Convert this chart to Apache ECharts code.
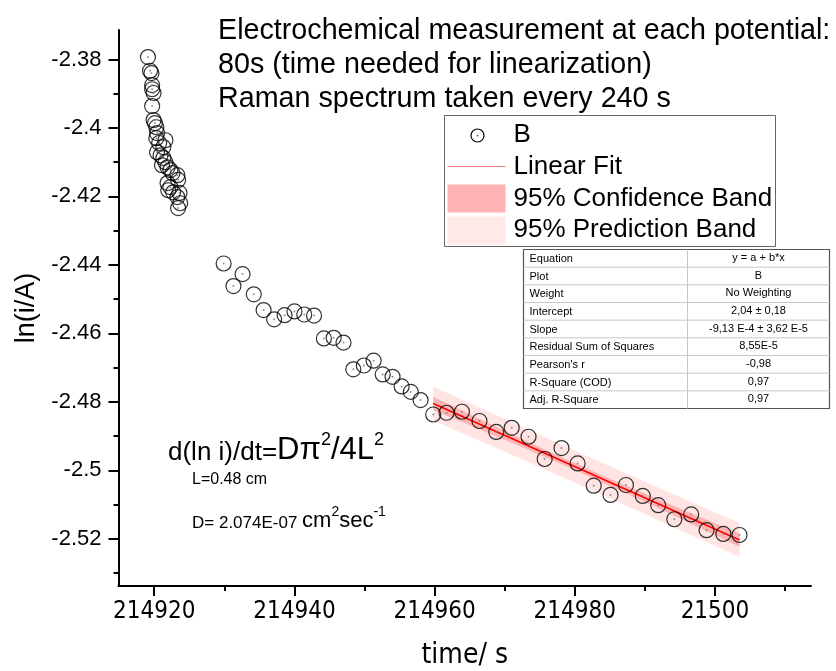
<!DOCTYPE html>
<html>
<head>
<meta charset="utf-8">
<script src="https://cdn.jsdelivr.net/npm/echarts@6/dist/echarts.min.js"></script>
<style>
  html, body { margin: 0; padding: 0; background: #fff; }
  #chart { width: 836px; height: 671px; }
</style>
</head>
<body>
<div id="chart"></div>
<script>
// Early, fast-falling readings
const clusterTime = [214919.1, 214919.4, 214919.6, 214919.7, 214919.7, 214919.9, 214919.7, 214919.9, 214920.1, 214920.3, 214920.4, 214920.3, 214921.6, 214920.7, 214921.3, 214920.4, 214920.9, 214921.3, 214921.6, 214921.1, 214921.9, 214922.3, 214922.6, 214923.3, 214923.4, 214921.9, 214922.3, 214922.0, 214922.7, 214923.6, 214923.3, 214923.7, 214923.4];
const clusterLn = [-2.3793, -2.3833, -2.3840, -2.3875, -2.3887, -2.3898, -2.3936, -2.3977, -2.3986, -2.3998, -2.4015, -2.4030, -2.4036, -2.4044, -2.4056, -2.4071, -2.4080, -2.4088, -2.4100, -2.4109, -2.4115, -2.4123, -2.4132, -2.4138, -2.4152, -2.4161, -2.4173, -2.4182, -2.4188, -2.4190, -2.4202, -2.4220, -2.4234];

// Intermediate readings
const midTime = [214929.9, 214932.6, 214931.3, 214934.2, 214935.6, 214937.1, 214938.6, 214940.0, 214941.4, 214942.8, 214944.2, 214945.6, 214947.0, 214948.4, 214949.9, 214951.3, 214952.6, 214954.0, 214955.3, 214956.6, 214958.0];
const midLn = [-2.4396, -2.4427, -2.4462, -2.4486, -2.4532, -2.4559, -2.4547, -2.4536, -2.4545, -2.4548, -2.4615, -2.4613, -2.4627, -2.4705, -2.4694, -2.4680, -2.4720, -2.4727, -2.4755, -2.4771, -2.4795];

// Readings used for the linear fit
const fitTime = [214959.8, 214961.7, 214963.9, 214966.4, 214968.8, 214971.0, 214973.4, 214975.7, 214978.1, 214980.4, 214982.7, 214985.1, 214987.3, 214989.7, 214991.9, 214994.2, 214996.6, 214998.8, 215001.2, 215003.5];
const fitLn = [-2.4837, -2.4832, -2.4829, -2.4856, -2.4888, -2.4876, -2.4902, -2.4967, -2.4935, -2.4980, -2.5045, -2.5072, -2.5043, -2.5075, -2.5102, -2.5143, -2.5129, -2.5175, -2.5186, -2.5189];

// Fit statistics (as reported in the results table)
const fitSlope = -9.13e-4;
const fitRSS = 8.55e-5;
const tCrit = 2.101; // t(0.975, n-2 = 18)

// Axis ticks and labels
const xTickValues = [214920, 214940, 214960, 214980, 215000];
const xTickLabels = ['214920', '214940', '214960', '214980', '21500'];
const xMinorValues = [214930, 214950, 214970, 214990, 215010];
const yTickValues = [-2.38, -2.40, -2.42, -2.44, -2.46, -2.48, -2.50, -2.52];
const yTickLabels = ['-2.38', '-2.4', '-2.42', '-2.44', '-2.46', '-2.48', '-2.5', '-2.52'];
const yMinorValues = [-2.39, -2.41, -2.43, -2.45, -2.47, -2.49, -2.51, -2.53];

// Annotation texts
const headerLines = [
  'Electrochemical measurement at each potential:',
  '80s (time needed for linearization)',
  'Raman spectrum taken every 240 s'
];
const legendNames = ['B', 'Linear Fit', '95% Confidence Band', '95% Prediction Band'];
const tableRows = [
  ['Equation', 'y = a + b*x'],
  ['Plot', 'B'],
  ['Weight', 'No Weighting'],
  ['Intercept', '2,04 \u00b1 0,18'],
  ['Slope', '-9,13 E-4 \u00b1 3,62 E-5'],
  ['Residual Sum of Squares', '8,55E-5'],
  ["Pearson's r", '-0,98'],
  ['R-Square (COD)', '0,97'],
  ['Adj. R-Square', '0,97']
];

const FONT = "'Liberation Sans', Arial, sans-serif";
const NARROW = "'Liberation Sans Narrow', 'Arial Narrow', 'DejaVu Sans Condensed', sans-serif";

const X_MIN = 214914.9, X_MAX = 215013.7;
const Y_MIN = -2.5338, Y_MAX = -2.3714;

// ---- points ----
const allTime = clusterTime.concat(midTime, fitTime);
const allLn = clusterLn.concat(midLn, fitLn);
const points = allTime.map((t, i) => [t, allLn[i]]);

// ---- linear fit with confidence / prediction bands ----
const n = fitTime.length;
const xMean = fitTime.reduce((a, b) => a + b, 0) / n;
const yMean = fitLn.reduce((a, b) => a + b, 0) / n;
const sxx = fitTime.reduce((a, x) => a + (x - xMean) * (x - xMean), 0);
const sRes = Math.sqrt(fitRSS / (n - 2));
const fitAt = x => yMean + fitSlope * (x - xMean);
const x0 = fitTime[0], x1 = fitTime[n - 1];
const steps = 40;
const bandX = [];
for (let i = 0; i <= steps; i++) bandX.push(x0 + (x1 - x0) * i / steps);
const confHalf = x => tCrit * sRes * Math.sqrt(1 / n + (x - xMean) * (x - xMean) / sxx);
const predHalf = x => tCrit * sRes * Math.sqrt(1 + 1 / n + (x - xMean) * (x - xMean) / sxx);
const confUpper = bandX.map(x => [x, fitAt(x) + confHalf(x)]);
const confLower = bandX.map(x => [x, fitAt(x) - confHalf(x)]);
const predUpper = bandX.map(x => [x, fitAt(x) + predHalf(x)]);
const predLower = bandX.map(x => [x, fitAt(x) - predHalf(x)]);
const fitLine = [[x0, fitAt(x0)], [x1, fitAt(x1)]];

function bandSeries(name, upper, lower, color, z) {
  return {
    name: name,
    type: 'custom',
    z: z,
    silent: true,
    clip: true,
    data: [upper[0]],
    renderItem: function (params, api) {
      const pts = upper.map(p => api.coord(p)).concat(lower.slice().reverse().map(p => api.coord(p)));
      return { type: 'polygon', shape: { points: pts }, style: { fill: color } };
    }
  };
}

const PRED_COLOR = '#ffe4e4';
const CONF_COLOR = '#ffb4b4';

// ---- legend and table drawn as graphics ----
const legendLeft = 444, legendTop = 115;
const legendGroup = {
  type: 'group', left: legendLeft, top: legendTop, z: 20,
  children: [
    { type: 'rect', shape: { x: 0, y: 0, width: 331, height: 131 }, style: { fill: '#fff', stroke: '#666', lineWidth: 1 } },
    { type: 'circle', shape: { cx: 33, cy: 20, r: 6.5 }, style: { fill: 'none', stroke: '#000', lineWidth: 1.2 } },
    { type: 'circle', shape: { cx: 33, cy: 20, r: 0.9 }, style: { fill: '#666' } },
    { type: 'line', shape: { x1: 3, y1: 51, x2: 61, y2: 51 }, style: { stroke: '#ee7b7b', lineWidth: 1 } },
    { type: 'rect', shape: { x: 3, y: 69, width: 58, height: 28 }, style: { fill: CONF_COLOR } },
    { type: 'rect', shape: { x: 3, y: 101, width: 58, height: 28 }, style: { fill: '#ffe9e9' } }
  ].concat(legendNames.map((t, i) => ({
    type: 'text', x: 69, y: [19, 51, 83, 114][i],
    style: { text: t, font: '26px ' + FONT, fill: '#000', verticalAlign: 'middle' }
  })))
};

const tblLeft = 521, tblTop = 247, tblW = 306, tblH = 159, colX = 164;
const rowH = tblH / tableRows.length;
const tableChildren = [
  { type: 'rect', shape: { x: 0, y: 0, width: tblW, height: tblH }, style: { fill: '#fff', stroke: '#555', lineWidth: 1.2 } },
  { type: 'line', shape: { x1: colX, y1: 0, x2: colX, y2: tblH }, style: { stroke: '#c8c8c8', lineWidth: 1 } }
];
for (let i = 1; i < tableRows.length; i++) {
  tableChildren.push({ type: 'line', shape: { x1: 0, y1: i * rowH, x2: tblW, y2: i * rowH }, style: { stroke: '#c8c8c8', lineWidth: 1 } });
}
tableRows.forEach((r, i) => {
  tableChildren.push({ type: 'text', x: 6, y: i * rowH + rowH / 2 + 0.5, style: { text: r[0], font: '11px ' + FONT, fill: '#000', verticalAlign: 'middle' } });
  tableChildren.push({ type: 'text', x: colX + (tblW - colX) / 2, y: i * rowH + rowH / 2 - 0.5, style: { text: r[1], font: '11px ' + FONT, fill: '#000', align: 'center', verticalAlign: 'middle' } });
});
const tableGroup = { type: 'group', left: tblLeft, top: tblTop, z: 21, children: tableChildren };

const headerText = {
  type: 'text', left: 218, top: 14, z: 22,
  style: { text: headerLines.join('\n'), font: '28.7px ' + FONT, fill: '#000', lineHeight: 34 }
};

const eqText = {
  type: 'text', left: 168, top: 431, z: 22,
  style: {
    text: '{a|d(ln i)/dt=}{m|D\u03c0}{s|2}{m|/4L}{s|2}',
    rich: {
      a: { fontSize: 26, fontFamily: FONT, lineHeight: 35, verticalAlign: 'bottom', color: '#000' },
      m: { fontSize: 31, fontFamily: FONT, lineHeight: 35, verticalAlign: 'bottom', color: '#000' },
      s: { fontSize: 18, fontFamily: FONT, lineHeight: 19, verticalAlign: 'top', color: '#000' }
    }
  }
};
const lText = {
  type: 'text', left: 192, top: 472, z: 22,
  style: { text: 'L=0.48 cm', font: '16px ' + FONT, fill: '#000' }
};
const dText = {
  type: 'text', left: 192, top: 505, z: 22,
  style: {
    text: '{a|D= 2.074E-07 }{b|cm}{s|2}{b|sec}{s|-1}',
    rich: {
      a: { fontSize: 17, fontFamily: FONT, lineHeight: 27, verticalAlign: 'bottom', color: '#000' },
      b: { fontSize: 22, fontFamily: FONT, lineHeight: 27, verticalAlign: 'bottom', color: '#000' },
      s: { fontSize: 14, fontFamily: FONT, lineHeight: 15, verticalAlign: 'top', color: '#000' }
    }
  }
};

const axisLineStyle = { color: '#000', width: 2 };

const option = {
  backgroundColor: '#fff',
  animation: false,
  grid: { left: 118.5, right: 25, top: 30, bottom: 85, containLabel: false, outerBoundsMode: 'none' },
  xAxis: [
    {
      type: 'value', min: X_MIN, max: X_MAX, position: 'bottom',
      axisLine: { show: true, onZero: false, lineStyle: axisLineStyle },
      axisTick: { show: true, length: 10, customValues: xTickValues, lineStyle: { color: '#000', width: 2 } },
      axisLabel: {
        customValues: xTickValues,
        formatter: v => xTickLabels[xTickValues.findIndex(t => Math.abs(t - v) < 1e-6)],
        margin: 14, fontSize: 24, fontFamily: NARROW, color: '#000'
      },
      splitLine: { show: false },
      name: 'time/ s', nameLocation: 'middle', nameGap: 56,
      nameTextStyle: { fontSize: 28, fontFamily: NARROW, color: '#000' }
    },
    {
      type: 'value', min: X_MIN, max: X_MAX, position: 'bottom', offset: 0,
      axisLine: { show: false },
      axisTick: { show: true, length: 5, customValues: xMinorValues, lineStyle: { color: '#000', width: 2 } },
      axisLabel: { show: false },
      splitLine: { show: false }
    }
  ],
  yAxis: [
    {
      type: 'value', min: Y_MIN, max: Y_MAX, position: 'left',
      axisLine: { show: true, onZero: false, lineStyle: axisLineStyle },
      axisTick: { show: true, length: 10, customValues: yTickValues, lineStyle: { color: '#000', width: 2 } },
      axisLabel: {
        customValues: yTickValues,
        formatter: v => yTickLabels[yTickValues.findIndex(t => Math.abs(t - v) < 1e-6)],
        margin: 17, fontSize: 22, fontFamily: FONT, color: '#000'
      },
      splitLine: { show: false },
      name: 'ln(i/A)', nameLocation: 'middle', nameGap: 67, nameRotate: 90,
      nameTextStyle: { fontSize: 27, fontFamily: FONT, color: '#000' }
    },
    {
      type: 'value', min: Y_MIN, max: Y_MAX, position: 'left', offset: 0,
      axisLine: { show: false },
      axisTick: { show: true, length: 5, customValues: yMinorValues, lineStyle: { color: '#000', width: 2 } },
      axisLabel: { show: false },
      splitLine: { show: false }
    }
  ],
  series: [
    bandSeries('95% Prediction Band', predUpper, predLower, PRED_COLOR, 1),
    bandSeries('95% Confidence Band', confUpper, confLower, CONF_COLOR, 2),
    {
      name: 'Linear Fit', type: 'line', z: 3, data: fitLine, symbol: 'none', silent: true,
      lineStyle: { color: '#ff0000', width: 1.6 }
    },
    {
      name: 'B', type: 'scatter', z: 4, data: points, symbol: 'circle', symbolSize: 15, silent: true,
      itemStyle: { color: 'rgba(0,0,0,0)', borderColor: '#000', borderWidth: 1.2 }
    },
    {
      name: 'B-center', type: 'scatter', z: 5, data: points, symbol: 'circle', symbolSize: 2, silent: true,
      itemStyle: { color: '#777' }
    }
  ],
  graphic: [headerText, legendGroup, tableGroup, eqText, lText, dText]
};

const chart = echarts.init(document.getElementById('chart'), null, { renderer: 'canvas' });
chart.setOption(option);
</script>
</body>
</html>
